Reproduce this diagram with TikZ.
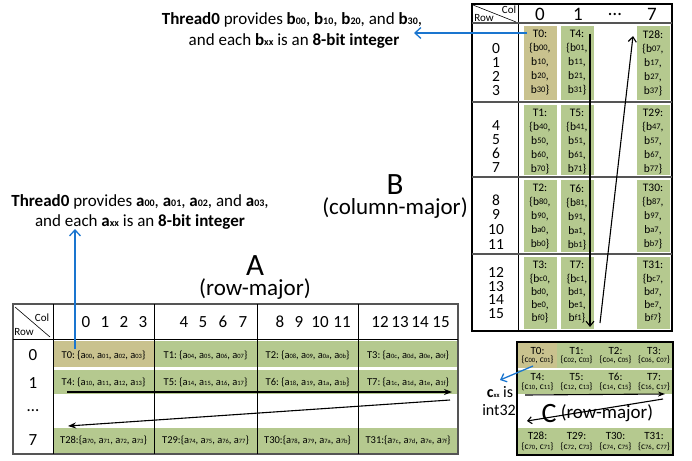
\documentclass[tikz,border=0pt]{standalone}
\usepackage{fontspec}
\setmainfont{Carlito}
\usetikzlibrary{arrows.meta}
\definecolor{cellgreen}{HTML}{B5C98F}
\definecolor{celltan}{HTML}{C9C28E}
\definecolor{arrowblue}{HTML}{1A75CF}
\definecolor{gridgray}{HTML}{555555}
\newcommand\hexd[1]{\ifcase#1\relax 0\or 1\or 2\or 3\or 4\or 5\or 6\or 7\or 8\or 9\or a\or b\or c\or d\or e\or f\fi}
\newcommand\sbx[1]{{\fontsize{6.5}{6.5}\selectfont #1}}
\newcommand\sbb[1]{\raisebox{1pt}{\fontsize{8.5}{8.5}\selectfont #1}}
\newcommand\sbc[1]{{\fontsize{10}{10}\selectfont #1}}
\begin{document}
\begin{tikzpicture}[x=1pt,y=-1pt,
  every node/.style={inner sep=0pt},
  atext/.style={font=\fontsize{10.5}{11}\selectfont},
  ctext/.style={font=\fontsize{11}{11}\selectfont},
  cstext/.style={font=\fontsize{9.5}{10}\selectfont},
  rowlbl/.style={font=\fontsize{17}{17}\selectfont},
  hdrlbl/.style={font=\fontsize{17}{17}\selectfont},
  rclbl/.style={font=\fontsize{11}{11}\selectfont},
  note/.style={font=\fontsize{17}{17}\selectfont},
  bigl/.style={font=\fontsize{31}{31}\selectfont},
  subl/.style={font=\fontsize{23}{23}\selectfont},
  blk/.style={line width=1.1pt, black},
  blu/.style={line width=1.3pt, arrowblue},
  gridline/.style={line width=0.8pt, black},
]
\useasboundingbox (0,0) rectangle (692,460);

% ================= B matrix =================
\foreach \c/\cx in {0/540,1/577,7/653} {
  \foreach \r/\tp/\bt/\sp in {0/23/102/14, 1/102/177/14, 2/177/254/14, 3/254/331/13.2} {
    \pgfmathtruncatemacro\tn{4*\c+\r}
    \pgfmathtruncatemacro\ra{4*\r}
    \pgfmathtruncatemacro\rb{4*\r+1}
    \pgfmathtruncatemacro\rc{4*\r+2}
    \pgfmathtruncatemacro\rd{4*\r+3}
    \ifnum\tn=0 \def\fc{celltan}\else\def\fc{cellgreen}\fi
    \fill[\fc] (\cx-16.5,\tp+3) rectangle (\cx+16.5,\bt-2);
    \node[anchor=north, align=center, font=\fontsize{11.5}{\sp}\selectfont] (bT\tn) at (\cx,\tp+7.3)
      {T\tn:\\\{b\sbb{\hexd{\ra}\c},\\b\sbb{\hexd{\rb}\c},\\b\sbb{\hexd{\rc}\c},\\b\sbb{\hexd{\rd}\c}\}};
  }
}
% row labels
\foreach \r/\ly/\sp in {0/70/14, 1/146.5/14.3, 2/222/14.6, 3/293/13.6} {
  \pgfmathtruncatemacro\ra{4*\r}
  \pgfmathtruncatemacro\rb{4*\r+1}
  \pgfmathtruncatemacro\rc{4*\r+2}
  \pgfmathtruncatemacro\rd{4*\r+3}
  \node[align=center, font=\fontsize{15.5}{\sp}\selectfont] (brow\r) at (496,\ly) {\ra\\\rb\\\rc\\\rd};
}
% grid
\draw[line width=1.2pt] (472,4) rectangle (672,331);
\draw[gridline] (518,4) -- (518,331);
\draw[line width=1.6pt, gridgray] (472,23) -- (672,23);
\foreach \yy in {102,177,254} \draw[line width=1.2pt, gridgray] (472,\yy) -- (672,\yy);
\draw[line width=0.6pt] (473,5) -- (516,22);
\node[rclbl] (bcol) at (509,10) {Col};
\node[rclbl] (browt) at (484,18) {Row};
\node[font=\fontsize{19}{19}\selectfont] (bh0) at (540,14) {0};
\node[font=\fontsize{19}{19}\selectfont] (bh1) at (578,14) {1};
\node[font=\fontsize{19}{19}\selectfont] (bhd) at (615,14) {\dots};
\node[font=\fontsize{19}{19}\selectfont] (bh7) at (652,14) {7};
% B arrows
\coordinate (bvs) at (590,34);
\coordinate (bve) at (590,327);
\coordinate (bds) at (600,323);
\coordinate (bde) at (633,36);
\draw[blk, -{Straight Barb[length=5pt,width=8pt]}] (bvs) -- (bve);
\draw[blk, -{Straight Barb[length=5pt,width=8pt]}] (bds) -- (bde);
% B note
\node[note] (bn1) at (292,20) {\textbf{Thread0} provides \textbf{b\sbc{00}}, \textbf{b\sbc{10}}, \textbf{b\sbc{20}}, and \textbf{b\sbc{30}},};
\node[note] (bn2) at (294,41) {and each \textbf{b\sbc{xx}} is an \textbf{8-bit integer}};
\coordinate (bbs) at (527,33);
\coordinate (bbe) at (414,33);
\draw[blu, -{Straight Barb[length=6pt,width=11pt]}] (bbs) -- (bbe);
\node[bigl] (Blbl) at (395,185) {B};
\node[subl] (Bsub) at (395,208) {(column-major)};

% ================= A matrix =================
\foreach \rowi/\ry/\rtop/\rbot/\tbase in {0/355/341/367/0, 1/382/370/394/4, 7/440/428/453/28} {
  \fill[cellgreen] (54,\rtop) rectangle (457,\rbot);
  \foreach \j/\cx in {0/103.5,1/205.5,2/307.5,3/408} {
    \pgfmathtruncatemacro\tn{\tbase+\j}
    \pgfmathtruncatemacro\ka{4*\j}
    \pgfmathtruncatemacro\kb{4*\j+1}
    \pgfmathtruncatemacro\kc{4*\j+2}
    \pgfmathtruncatemacro\kd{4*\j+3}
    \ifnum\tn=0 \fill[celltan] (54,\rtop) rectangle (154,\rbot);\fi
    \node[atext] (aT\tn) at (\cx,\ry)
      {T\tn:\ifnum\rowi=7 \else\ \fi\{a\sbx{\rowi\hexd{\ka}}, a\sbx{\rowi\hexd{\kb}}, a\sbx{\rowi\hexd{\kc}}, a\sbx{\rowi\hexd{\kd}}\}};
  }
}
\draw[line width=1.1pt, gridgray] (13,304) rectangle (458,454);
\draw[gridline] (13,339) -- (458,339);
\foreach \xx in {53,154,257,358} \draw[gridline] (\xx,304) -- (\xx,454);
\draw[line width=0.6pt] (15,307) -- (50,337);
\node[rclbl] (acol) at (42,318) {Col};
\node[rclbl] (arow) at (24,332) {Row};
\foreach \d/\dx in {0/86,1/105,2/124,3/143,4/184,5/203,6/223,7/243,8/280,9/299,10/320,11/342,12/380,13/400,14/420,15/441}
  \node[hdrlbl] (ah\d) at (\dx,322) {\d};
\node[rowlbl] (ar0) at (33,355) {0};
\node[rowlbl] (ar1) at (33,383) {1};
\node[rowlbl] (ard) at (33,411) {\dots};
\node[rowlbl] (ar7) at (33,440) {7};
% A arrows
\coordinate (ahs) at (67,392);
\coordinate (ahe) at (452,392);
\coordinate (ads) at (450,400);
\coordinate (ade) at (68,426);
\draw[blk, -{Stealth[length=8pt,width=6pt]}] (ahs) -- (ahe);
\draw[blk, -{Stealth[length=8pt,width=6pt]}] (ads) -- (ade);
% A note
\node[note] (an1) at (140,202) {\textbf{Thread0} provides \textbf{a\sbc{00}}, \textbf{a\sbc{01}}, \textbf{a\sbc{02}}, and \textbf{a\sbc{03}},};
\node[note] (an2) at (140,222) {and each \textbf{a\sbc{xx}} is an \textbf{8-bit integer}};
\coordinate (abs) at (75,349);
\coordinate (abe) at (75,229);
\draw[blu, -{Straight Barb[length=6pt,width=11pt]}] (abs) -- (abe);
\node[bigl] (Albl) at (255,266) {A};
\node[subl] (Asub) at (255,289) {(row-major)};

% ================= C matrix =================
\foreach \rowi/\ty/\cy/\rtop/\rbot/\tbase in {0/351/360/343/368/0, 1/377/387/370/394/4, 7/436/447/428/454/28} {
  \fill[cellgreen] (518,\rtop) rectangle (672,\rbot);
  \foreach \j/\cx in {0/537.5,1/576.5,2/615.5,3/654} {
    \pgfmathtruncatemacro\tn{\tbase+\j}
    \pgfmathtruncatemacro\ka{2*\j}
    \pgfmathtruncatemacro\kb{2*\j+1}
    \ifnum\tn=0 \fill[celltan] (518,\rtop) rectangle (557,\rbot);\fi
    \node[ctext] (cT\tn) at (\cx,\ty) {T\tn:};
    \node[cstext] (cv\tn) at (\cx,\cy) {\{c\sbx{\rowi\ka}, c\sbx{\rowi\kb}\}};
  }
}
\draw[line width=1.2pt] (517,342) rectangle (673,455);
\coordinate (chs) at (525,395);
\coordinate (che) at (665,394);
\coordinate (cds) at (663,399);
\coordinate (cde) at (527,421);
\draw[blk, -{Stealth[length=7pt,width=5pt]}] (chs) -- (che);
\draw[blk, -{Straight Barb[length=4pt,width=7pt]}] (cds) -- (cde);
\node[font=\fontsize{28}{28}\selectfont] (Clbl) at (549,414) {C};
\node[font=\fontsize{19}{19}\selectfont] (Csub) at (607,413) {(row-major)};
\node[font=\fontsize{16}{16}\selectfont] (cis) at (500,392) {\textbf{c\sbx{xx}} is};
\node[font=\fontsize{16}{16}\selectfont] (cint) at (499,410) {int32};
\coordinate (cbs) at (533,366);
\coordinate (cbe) at (500,380);
\draw[blu, -{Straight Barb[length=5pt,width=9pt]}] (cbs) -- (cbe);
\end{tikzpicture}
\end{document}
